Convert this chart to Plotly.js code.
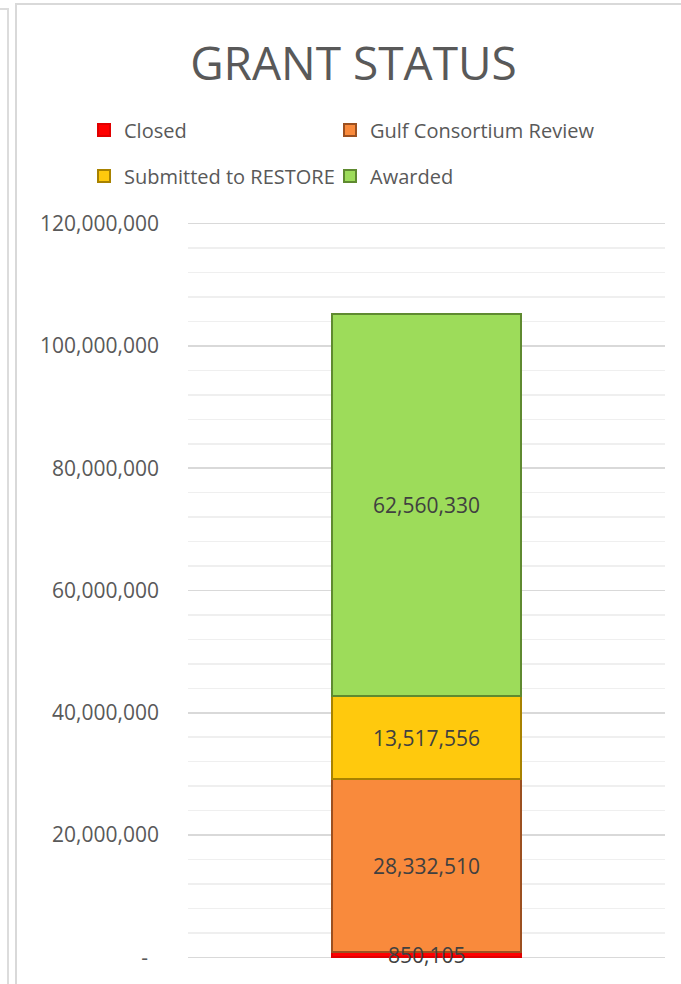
<!DOCTYPE html>
<html>
<head>
<meta charset="utf-8">
<script src="https://cdn.plot.ly/plotly-3.0.1.min.js"></script>
<style>
  html, body { margin: 0; padding: 0; background: #ffffff; width: 681px; height: 984px; overflow: hidden; }
  #frame-main { position: absolute; left: 15px; top: 3px; width: 700px; height: 1000px; border-left: 2px solid #d9d9d9; border-top: 2px solid #d9d9d9; box-sizing: border-box; }
  #frame-side { position: absolute; left: -2px; top: 8px; width: 11px; height: 1000px; border-right: 2px solid #dcdcdc; border-top: 2px solid #dcdcdc; box-sizing: border-box; }
  #chart { position: absolute; left: 0; top: 0; width: 681px; height: 984px; }
</style>
</head>
<body>
<div id="frame-side"></div>
<div id="frame-main"></div>
<div id="chart"></div>
<script>
// ---- data ----
const category = ['Grant Status'];
const closedVals = [850105];
const gulfVals = [28332510];
const submittedVals = [13517556];
const awardedVals = [62560330];
const tickVals = [0, 20000000, 40000000, 60000000, 80000000, 100000000, 120000000];
const tickText = ['-\u00A0\u00A0', '20,000,000', '40,000,000', '60,000,000', '80,000,000', '100,000,000', '120,000,000'];

const fmt = v => v.toLocaleString('en-US');
const labelFont = { family: 'Open Sans, sans-serif', size: 21, color: '#404040' };
const barWidth = 0.396;

function barTrace(name, vals, fill, edge, legend, showText) {
  return {
    type: 'bar',
    name: name,
    x: category,
    y: vals,
    width: vals.map(() => barWidth),
    text: vals.map(fmt),
    textposition: showText ? 'inside' : 'none',
    insidetextanchor: 'middle',
    textfont: labelFont,
    marker: { color: fill, line: { color: edge, width: 2 } },
    legend: legend,
    hoverinfo: 'name+y'
  };
}

const data = [
  barTrace('Closed', closedVals, '#ff0000', '#e00000', 'legend', false),
  barTrace('Gulf Consortium Review', gulfVals, '#f98a3c', '#9c5020', 'legend2', true),
  barTrace('Submitted to RESTORE', submittedVals, '#ffc90d', '#a88200', 'legend3', true),
  barTrace('Awarded', awardedVals, '#9ddc5a', '#5f8a30', 'legend4', true)
];

const legendFont = { family: 'Open Sans, sans-serif', size: 20, color: '#595959' };
function legendAt(px, py) {
  return {
    orientation: 'h', traceorder: 'normal',
    xref: 'container', yref: 'container',
    x: px / 681, xanchor: 'left',
    y: 1 - py / 984, yanchor: 'middle',
    font: legendFont, bgcolor: 'rgba(0,0,0,0)'
  };
}

const layout = {
  width: 681,
  height: 984,
  paper_bgcolor: 'rgba(0,0,0,0)',
  plot_bgcolor: 'rgba(0,0,0,0)',
  margin: { l: 188, r: 16, t: 220, b: 23, pad: 0 },
  barmode: 'stack',
  showlegend: true,
  title: {
    text: 'GRANT STATUS',
    font: { family: 'Open Sans, sans-serif', size: 46, color: '#595959' },
    xref: 'container', yref: 'container',
    x: 0.519, xanchor: 'center',
    y: 1 - 64 / 984, yanchor: 'middle'
  },
  legend: legendAt(84, 130),
  legend2: legendAt(330, 130),
  legend3: legendAt(84, 176),
  legend4: legendAt(330, 176),
  xaxis: {
    type: 'category',
    range: [-0.5, 0.5],
    showticklabels: false,
    showgrid: false,
    zeroline: false,
    showline: false,
    ticks: ''
  },
  yaxis: {
    range: [-600000, 120600000],
    tickmode: 'array',
    tickvals: tickVals,
    ticktext: tickText,
    tickfont: { family: 'Open Sans, sans-serif', size: 21, color: '#595959' },
    ticklabelstandoff: 28,
    showgrid: true,
    gridcolor: '#d9d9d9',
    gridwidth: 1.5,
    zeroline: false,
    showline: false,
    ticks: '',
    minor: { dtick: 4000000, showgrid: true, gridcolor: '#efefef', gridwidth: 1.5, ticks: '' }
  },
  annotations: [{
    x: category[0],
    y: closedVals[0] / 2,
    xref: 'x', yref: 'y',
    text: fmt(closedVals[0]),
    showarrow: false,
    font: labelFont,
    xanchor: 'center', yanchor: 'middle'
  }]
};

Plotly.newPlot('chart', data, layout, { displayModeBar: false, staticPlot: true });
</script>
</body>
</html>
